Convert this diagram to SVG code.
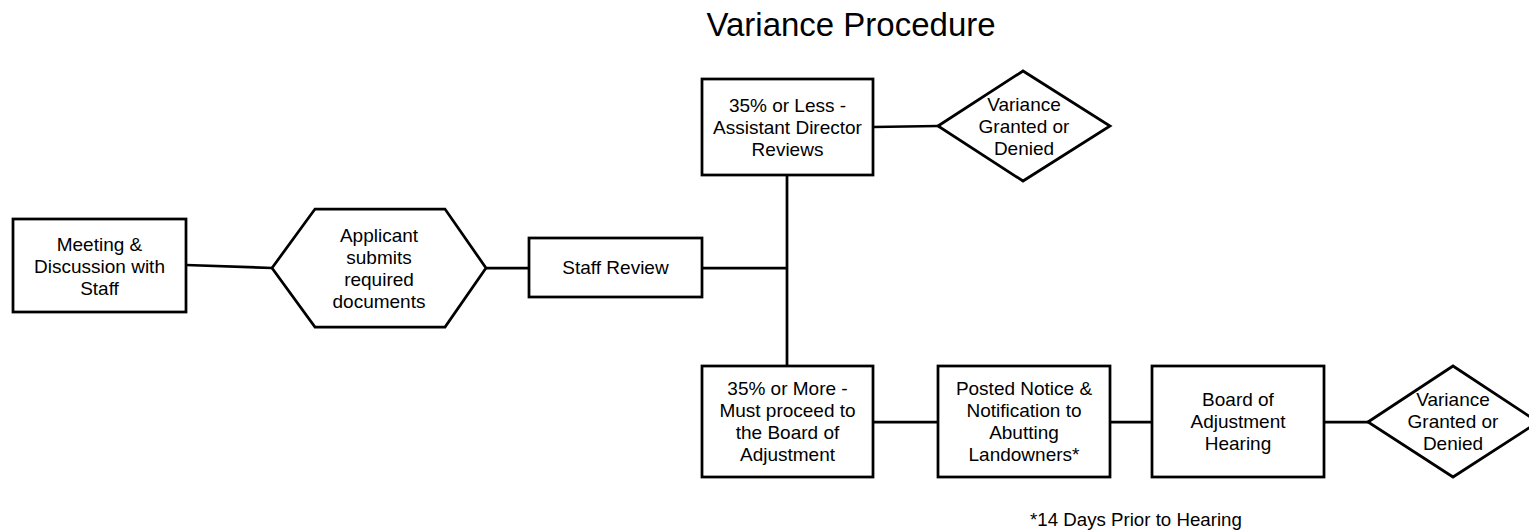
<svg xmlns="http://www.w3.org/2000/svg" width="1529" height="531" viewBox="0 0 1529 531">
  <style>
    .shape { fill: #ffffff; stroke: #000000; stroke-width: 2.75; }
    .conn line { stroke: #000000; stroke-width: 2.75; fill: none; }
    text { font-family: "Liberation Sans", Arial, sans-serif; fill: #000000; }
    .lbl { font-size: 19px; text-anchor: middle; }
    .title { font-size: 33px; text-anchor: middle; }
    .note { font-size: 18.7px; }
  </style>

  <rect width="1529" height="531" fill="#ffffff"/>

  <text class="title" x="851" y="36">Variance Procedure</text>

  <!-- connectors -->
  <g id="connectors" class="conn">
    <line x1="186" y1="265" x2="272" y2="268"/>
    <line x1="486" y1="268" x2="529" y2="268"/>
    <line x1="702" y1="268" x2="788" y2="268"/>
    <line x1="787" y1="175" x2="787" y2="366"/>
    <line x1="873" y1="127" x2="938" y2="126"/>
    <line x1="873" y1="422" x2="938" y2="422"/>
    <line x1="1110" y1="422" x2="1152" y2="422"/>
    <line x1="1324" y1="422" x2="1368" y2="422"/>
  </g>

  <g id="meeting">
    <rect class="shape" x="13" y="219" width="173" height="93"/>
    <text class="lbl" x="99.5" y="250.8">Meeting &amp;</text>
    <text class="lbl" x="99.5" y="272.8">Discussion with</text>
    <text class="lbl" x="99.5" y="294.8">Staff</text>
  </g>

  <g id="applicant">
    <polygon class="shape" points="272,268 315,209 445,209 486,268 445,327 315,327"/>
    <text class="lbl" x="379" y="241.8">Applicant</text>
    <text class="lbl" x="379" y="263.8">submits</text>
    <text class="lbl" x="379" y="285.8">required</text>
    <text class="lbl" x="379" y="307.8">documents</text>
  </g>

  <g id="staff-review">
    <rect class="shape" x="529" y="238" width="173" height="59"/>
    <text class="lbl" x="615.5" y="274.3">Staff Review</text>
  </g>

  <g id="less-35">
    <rect class="shape" x="702" y="79" width="171" height="96"/>
    <text class="lbl" x="787.5" y="111.8">35% or Less -</text>
    <text class="lbl" x="787.5" y="133.8">Assistant Director</text>
    <text class="lbl" x="787.5" y="155.8">Reviews</text>
  </g>

  <g id="decision-1">
    <polygon class="shape" points="938,126 1023,71 1110,126 1023,181"/>
    <text class="lbl" x="1024" y="110.8">Variance</text>
    <text class="lbl" x="1024" y="132.8">Granted or</text>
    <text class="lbl" x="1024" y="154.8">Denied</text>
  </g>

  <g id="more-35">
    <rect class="shape" x="702" y="366" width="171" height="111"/>
    <text class="lbl" x="787.5" y="395.3">35% or More -</text>
    <text class="lbl" x="787.5" y="417.3">Must proceed to</text>
    <text class="lbl" x="787.5" y="439.3">the Board of</text>
    <text class="lbl" x="787.5" y="461.3">Adjustment</text>
  </g>

  <g id="posted-notice">
    <rect class="shape" x="938" y="366" width="172" height="111"/>
    <text class="lbl" x="1024" y="395.3">Posted Notice &amp;</text>
    <text class="lbl" x="1024" y="417.3">Notification to</text>
    <text class="lbl" x="1024" y="439.3">Abutting</text>
    <text class="lbl" x="1024" y="461.3">Landowners*</text>
  </g>

  <g id="board-hearing">
    <rect class="shape" x="1152" y="366" width="172" height="111"/>
    <text class="lbl" x="1238" y="406.3">Board of</text>
    <text class="lbl" x="1238" y="428.3">Adjustment</text>
    <text class="lbl" x="1238" y="450.3">Hearing</text>
  </g>

  <g id="decision-2">
    <polygon class="shape" points="1368,422 1453,366 1538,422 1453,477"/>
    <text class="lbl" x="1453" y="406.3">Variance</text>
    <text class="lbl" x="1453" y="428.3">Granted or</text>
    <text class="lbl" x="1453" y="450.3">Denied</text>
  </g>

  <text class="note" x="1030" y="526">*14 Days Prior to Hearing</text>
</svg>
